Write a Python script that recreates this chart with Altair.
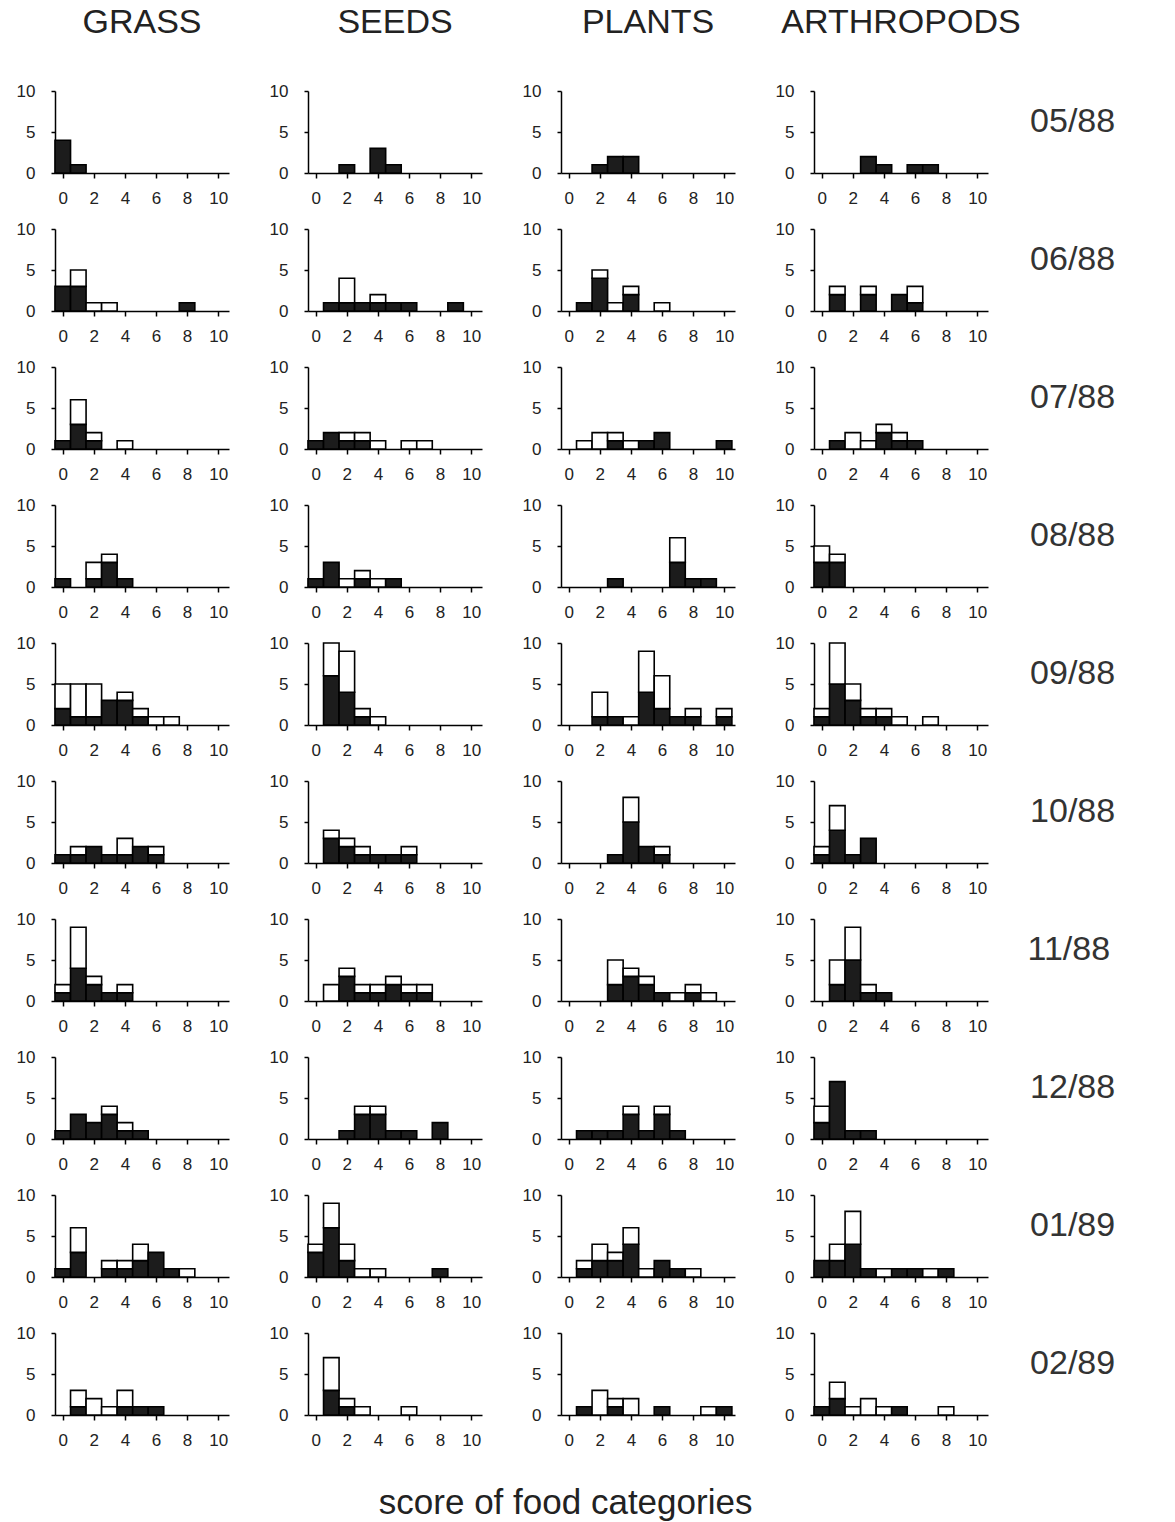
import altair as alt
import pandas as pd

CATEGORIES = ["GRASS", "SEEDS", "PLANTS", "ARTHROPODS"]
MONTHS = ["05/88", "06/88", "07/88", "08/88", "09/88",
          "10/88", "11/88", "12/88", "01/89", "02/89"]
SCORES = [0, 1, 2, 3, 4, 5, 6, 7, 8, 9, 10]
X_TICKS = [0, 2, 4, 6, 8, 10]
Y_TICKS = [0, 5, 10]

# counts per score (0..10), one list per month; black = filled part, white = open part
GRASS_BLACK = [
    [4, 1, 0, 0, 0, 0, 0, 0, 0, 0, 0],
    [3, 3, 0, 0, 0, 0, 0, 0, 1, 0, 0],
    [1, 3, 1, 0, 0, 0, 0, 0, 0, 0, 0],
    [1, 0, 1, 3, 1, 0, 0, 0, 0, 0, 0],
    [2, 1, 1, 3, 3, 1, 0, 0, 0, 0, 0],
    [1, 1, 2, 1, 1, 2, 1, 0, 0, 0, 0],
    [1, 4, 2, 1, 1, 0, 0, 0, 0, 0, 0],
    [1, 3, 2, 3, 1, 1, 0, 0, 0, 0, 0],
    [1, 3, 0, 1, 1, 2, 3, 1, 0, 0, 0],
    [0, 1, 0, 0, 1, 1, 1, 0, 0, 0, 0],
]
GRASS_WHITE = [
    [0, 0, 0, 0, 0, 0, 0, 0, 0, 0, 0],
    [0, 2, 1, 1, 0, 0, 0, 0, 0, 0, 0],
    [0, 3, 1, 0, 1, 0, 0, 0, 0, 0, 0],
    [0, 0, 2, 1, 0, 0, 0, 0, 0, 0, 0],
    [3, 4, 4, 0, 1, 1, 1, 1, 0, 0, 0],
    [0, 1, 0, 0, 2, 0, 1, 0, 0, 0, 0],
    [1, 5, 1, 0, 1, 0, 0, 0, 0, 0, 0],
    [0, 0, 0, 1, 1, 0, 0, 0, 0, 0, 0],
    [0, 3, 0, 1, 1, 2, 0, 0, 1, 0, 0],
    [0, 2, 2, 1, 2, 0, 0, 0, 0, 0, 0],
]
SEEDS_BLACK = [
    [0, 0, 1, 0, 3, 1, 0, 0, 0, 0, 0],
    [0, 1, 1, 1, 1, 1, 1, 0, 0, 1, 0],
    [1, 2, 1, 1, 0, 0, 0, 0, 0, 0, 0],
    [1, 3, 0, 1, 0, 1, 0, 0, 0, 0, 0],
    [0, 6, 4, 1, 0, 0, 0, 0, 0, 0, 0],
    [0, 3, 2, 1, 1, 1, 1, 0, 0, 0, 0],
    [0, 0, 3, 1, 1, 2, 1, 1, 0, 0, 0],
    [0, 0, 1, 3, 3, 1, 1, 0, 2, 0, 0],
    [3, 6, 2, 0, 0, 0, 0, 0, 1, 0, 0],
    [0, 3, 1, 0, 0, 0, 0, 0, 0, 0, 0],
]
SEEDS_WHITE = [
    [0, 0, 0, 0, 0, 0, 0, 0, 0, 0, 0],
    [0, 0, 3, 0, 1, 0, 0, 0, 0, 0, 0],
    [0, 0, 1, 1, 1, 0, 1, 1, 0, 0, 0],
    [0, 0, 1, 1, 1, 0, 0, 0, 0, 0, 0],
    [0, 4, 5, 1, 1, 0, 0, 0, 0, 0, 0],
    [0, 1, 1, 1, 0, 0, 1, 0, 0, 0, 0],
    [0, 2, 1, 1, 1, 1, 1, 1, 0, 0, 0],
    [0, 0, 0, 1, 1, 0, 0, 0, 0, 0, 0],
    [1, 3, 2, 1, 1, 0, 0, 0, 0, 0, 0],
    [0, 4, 1, 1, 0, 0, 1, 0, 0, 0, 0],
]
PLANTS_BLACK = [
    [0, 0, 1, 2, 2, 0, 0, 0, 0, 0, 0],
    [0, 1, 4, 0, 2, 0, 0, 0, 0, 0, 0],
    [0, 0, 0, 1, 0, 1, 2, 0, 0, 0, 1],
    [0, 0, 0, 1, 0, 0, 0, 3, 1, 1, 0],
    [0, 0, 1, 1, 0, 4, 2, 1, 1, 0, 1],
    [0, 0, 0, 1, 5, 2, 1, 0, 0, 0, 0],
    [0, 0, 0, 2, 3, 2, 1, 0, 1, 0, 0],
    [0, 1, 1, 1, 3, 1, 3, 1, 0, 0, 0],
    [0, 1, 2, 2, 4, 0, 2, 1, 0, 0, 0],
    [0, 1, 0, 1, 0, 0, 1, 0, 0, 0, 1],
]
PLANTS_WHITE = [
    [0, 0, 0, 0, 0, 0, 0, 0, 0, 0, 0],
    [0, 0, 1, 1, 1, 0, 1, 0, 0, 0, 0],
    [0, 1, 2, 1, 1, 0, 0, 0, 0, 0, 0],
    [0, 0, 0, 0, 0, 0, 0, 3, 0, 0, 0],
    [0, 0, 3, 0, 1, 5, 4, 0, 1, 0, 1],
    [0, 0, 0, 0, 3, 0, 1, 0, 0, 0, 0],
    [0, 0, 0, 3, 1, 1, 0, 1, 1, 1, 0],
    [0, 0, 0, 0, 1, 0, 1, 0, 0, 0, 0],
    [0, 1, 2, 1, 2, 1, 0, 0, 1, 0, 0],
    [0, 0, 3, 1, 2, 0, 0, 0, 0, 1, 0],
]
ARTHRO_BLACK = [
    [0, 0, 0, 2, 1, 0, 1, 1, 0, 0, 0],
    [0, 2, 0, 2, 0, 2, 1, 0, 0, 0, 0],
    [0, 1, 0, 0, 2, 1, 1, 0, 0, 0, 0],
    [3, 3, 0, 0, 0, 0, 0, 0, 0, 0, 0],
    [1, 5, 3, 1, 1, 0, 0, 0, 0, 0, 0],
    [1, 4, 1, 3, 0, 0, 0, 0, 0, 0, 0],
    [0, 2, 5, 1, 1, 0, 0, 0, 0, 0, 0],
    [2, 7, 1, 1, 0, 0, 0, 0, 0, 0, 0],
    [2, 2, 4, 1, 0, 1, 1, 0, 1, 0, 0],
    [1, 2, 0, 0, 0, 1, 0, 0, 0, 0, 0],
]
ARTHRO_WHITE = [
    [0, 0, 0, 0, 0, 0, 0, 0, 0, 0, 0],
    [0, 1, 0, 1, 0, 0, 2, 0, 0, 0, 0],
    [0, 0, 2, 1, 1, 1, 0, 0, 0, 0, 0],
    [2, 1, 0, 0, 0, 0, 0, 0, 0, 0, 0],
    [1, 5, 2, 1, 1, 1, 0, 1, 0, 0, 0],
    [1, 3, 0, 0, 0, 0, 0, 0, 0, 0, 0],
    [0, 3, 4, 1, 0, 0, 0, 0, 0, 0, 0],
    [2, 0, 0, 0, 0, 0, 0, 0, 0, 0, 0],
    [0, 2, 4, 0, 1, 0, 0, 1, 0, 0, 0],
    [0, 2, 1, 2, 1, 0, 0, 0, 1, 0, 0],
]

SERIES = {
    "GRASS": (GRASS_BLACK, GRASS_WHITE),
    "SEEDS": (SEEDS_BLACK, SEEDS_WHITE),
    "PLANTS": (PLANTS_BLACK, PLANTS_WHITE),
    "ARTHROPODS": (ARTHRO_BLACK, ARTHRO_WHITE),
}

rows = []
for cat in CATEGORIES:
    black, white = SERIES[cat]
    for mi, month in enumerate(MONTHS):
        for si, s in enumerate(SCORES):
            b = black[mi][si]
            w = white[mi][si]
            if b > 0:
                rows.append(dict(cat=cat, month=month, part="black",
                                 xa=s - 0.5, xb=s + 0.5, ya=0, yb=b))
            if w > 0:
                rows.append(dict(cat=cat, month=month, part="white",
                                 xa=s - 0.5, xb=s + 0.5, ya=b, yb=b + w))
df = pd.DataFrame(rows)

FONT = "Liberation Sans"

base = alt.Chart(df).mark_bar(stroke="black", strokeWidth=1.6).encode(
    x=alt.X("xa:Q", scale=alt.Scale(domain=[-0.5, 10.7], nice=False, zero=False),
            axis=alt.Axis(values=X_TICKS, title=None, labelPadding=12, tickSize=5,
                          labelFlush=False)),
    x2="xb:Q",
    y=alt.Y("ya:Q", scale=alt.Scale(domain=[0, 10], nice=False),
            axis=alt.Axis(values=Y_TICKS, title=None, labelPadding=16, tickSize=4)),
    y2="yb:Q",
    fill=alt.Fill("part:N", scale=alt.Scale(domain=["black", "white"],
                                            range=["#1c1c1c", "#ffffff"]), legend=None),
).properties(width=174, height=82)

chart = base.facet(
    column=alt.Column("cat:N", sort=CATEGORIES,
                      header=alt.Header(title=None, labelFontSize=34, labelFont=FONT,
                                        labelColor="#222", labelPadding=42)),
    row=alt.Row("month:N", sort=MONTHS,
                header=alt.Header(title=None, labelOrient="right", labelAngle=0,
                                  labelAlign="left", labelBaseline="alphabetic",
                                  labelFontSize=34, labelFont=FONT,
                                  labelColor="#333", labelPadding=-43)),
    spacing={"row": 14, "column": 40},
).resolve_axis(
    x="independent", y="independent"
).properties(
    title=alt.Title("score of food categories", orient="bottom", anchor="middle",
                    fontSize=35, font=FONT, fontWeight="normal", color="#222",
                    offset=38),
    padding={"left": 16, "top": 6, "right": 5, "bottom": 2},
).configure_view(
    stroke=None
).configure_axis(
    grid=False, domainColor="black", domainWidth=1.5, tickColor="black", tickWidth=1.5,
    labelFont=FONT, labelFontSize=17, labelColor="#222",
)

chart.save("out.html", embed_options={"renderer": "svg", "actions": False})
